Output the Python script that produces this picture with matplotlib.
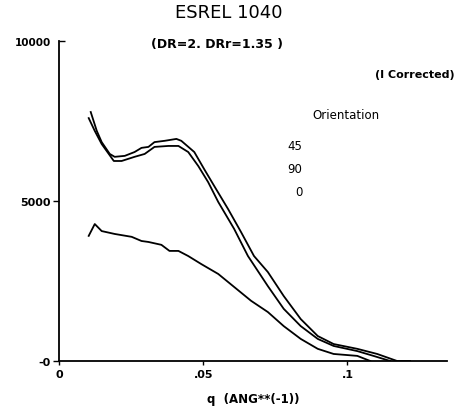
import matplotlib.pyplot as plt

# orientation 45 (outer upper curve)
q45 = [0.0110, 0.0131, 0.0148, 0.0176, 0.0193, 0.0228, 0.0262, 0.0286, 0.0310, 0.0331,
       0.0366, 0.0407, 0.0424, 0.0469, 0.0503, 0.0538, 0.0586, 0.0631, 0.0676, 0.0724,
       0.0779, 0.0838, 0.0897, 0.0952, 0.1034, 0.1103, 0.1172, 0.1217]
i45 = [7780, 7190, 6840, 6470, 6380, 6410, 6530, 6660, 6690, 6840,
       6880, 6940, 6880, 6530, 6000, 5470, 4750, 4030, 3280, 2780,
       2030, 1310, 780, 530, 380, 220, 0, 0]

# orientation 90 (inner upper curve)
q90 = [0.0103, 0.0124, 0.0148, 0.0190, 0.0217, 0.0262, 0.0297, 0.0331, 0.0379, 0.0414,
       0.0448, 0.0483, 0.0517, 0.0552, 0.0607, 0.0655, 0.0724, 0.0779, 0.0838, 0.0897,
       0.0952, 0.1034, 0.1090, 0.1148]
i90 = [7590, 7190, 6780, 6250, 6250, 6380, 6470, 6690, 6720, 6720,
       6530, 6090, 5590, 4970, 4130, 3280, 2340, 1630, 1090, 690,
       470, 310, 160, 0]

# orientation 0 (lower curve)
q0 = [0.0103, 0.0124, 0.0148, 0.0193, 0.0252, 0.0286, 0.0310, 0.0355, 0.0383, 0.0414,
      0.0448, 0.0493, 0.0552, 0.0666, 0.0724, 0.0779, 0.0838, 0.0897, 0.0952, 0.1034,
      0.1079]
i0 = [3910, 4280, 4060, 3970, 3880, 3750, 3720, 3630, 3440, 3440,
      3280, 3030, 2720, 1880, 1530, 1090, 690, 380, 220, 160,
      0]

xticks = [0, 0.05, 0.1]
xlabels = ['0', '.05', '.1']
yticks = [0, 5000]
ylabels = ['-0', '5000']

fig = plt.figure(figsize=(4.58, 4.14), dpi=100)
ax = fig.add_axes([0.1288, 0.1256, 0.8472, 0.773])

for q, inten in [(q45, i45), (q90, i90), (q0, i0)]:
    ax.plot(q, inten, color='black', lw=1.3)

ax.set_xlim(0, 0.1345)
ax.set_ylim(0, 10000)
ax.spines['top'].set_visible(False)
ax.spines['right'].set_visible(False)
ax.spines['left'].set_linewidth(1.3)
ax.spines['bottom'].set_linewidth(1.3)

ax.set_xticks(xticks)
ax.set_xticklabels(xlabels, fontsize=8, fontweight='bold')
ax.set_yticks(yticks)
ax.set_yticklabels(ylabels, fontsize=8, fontweight='bold')
ax.set_yticks([10000], minor=True)
ax.set_yticklabels(['10000'], minor=True, fontsize=7.5, fontweight='bold')
ax.tick_params(axis='x', direction='out', length=3, width=1, pad=3)
ax.tick_params(axis='y', which='major', direction='out', length=4, width=1, pad=2)
ax.tick_params(axis='y', which='minor', direction='in', length=4, width=1, pad=6)

ax.set_xlabel('q  (ANG**(-1))', fontsize=8.5, fontweight='bold', labelpad=9)

fig.text(0.50, 0.968, 'ESREL 1040', ha='center', va='center', fontsize=13)
fig.text(0.33, 0.892, '(DR=2. DRr=1.35 )', ha='left', va='center', fontsize=9, fontweight='bold')
fig.text(0.993, 0.818, '(I Corrected)', ha='right', va='center', fontsize=8, fontweight='bold')
fig.text(0.755, 0.722, 'Orientation', ha='center', va='center', fontsize=8.5)
fig.text(0.66, 0.645, '45', ha='right', va='center', fontsize=8.5)
fig.text(0.66, 0.59, '90', ha='right', va='center', fontsize=8.5)
fig.text(0.66, 0.535, '0', ha='right', va='center', fontsize=8.5)

fig.savefig('out.png', dpi=100)
